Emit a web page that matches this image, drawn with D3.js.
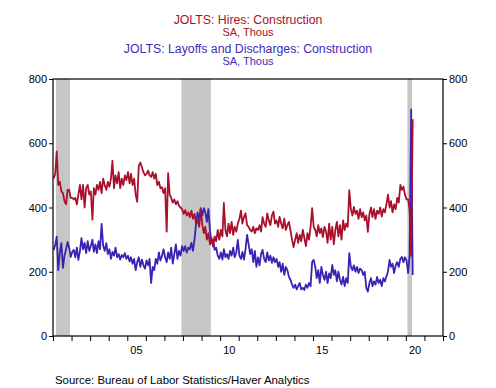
<!DOCTYPE html>
<html>
<head>
<meta charset="utf-8">
<script src="https://cdn.jsdelivr.net/npm/d3@7"></script>
<style>
  html, body { margin: 0; padding: 0; background: #fff; }
  svg { display: block; font-family: Arial, "Liberation Sans", sans-serif; }
</style>
</head>
<body>
<svg id="chart" width="496" height="388"></svg>
<script>
// ---- data (monthly, Jan 2001 .. May 2020, thousands, SA) ----
const startYear = 2001;
const hires = [
  490, 505, 575, 470, 480, 450, 445, 420, 410, 455, 455, 430,
  430, 425, 430, 410, 440, 470, 425, 470, 400, 460, 470, 440,
  450, 362, 460, 440, 470, 455, 480, 445, 490, 470, 455, 480,
  465, 490, 545, 460, 500, 475, 510, 460, 490, 470, 500, 485,
  510, 475, 505, 470, 490, 440, 418, 530, 540, 525, 510, 500,
  505, 515, 500, 495, 510, 490, 505, 470, 480, 460, 463, 445,
  460, 325, 507, 440, 430, 415, 425, 410, 420, 405, 400, 395,
  380, 392, 375, 385, 370, 390, 365, 380, 350, 360, 340, 395,
  345, 320, 340, 300, 320, 285, 305, 278, 310, 295, 330, 300,
  330, 310, 414, 330, 310, 350, 320, 355, 315, 340, 325, 350,
  365, 390, 350, 370, 382, 345, 340, 330, 325, 340, 320, 335,
  330, 345, 325, 370, 350, 340, 382, 360, 345, 375, 387, 350,
  360, 340, 371, 350, 335, 365, 330, 345, 355, 330, 300, 277,
  300, 320, 290, 315, 295, 330, 305, 280, 320, 300, 340, 398,
  340, 330, 310, 345, 320, 335, 308, 340, 325, 290, 350, 300,
  340, 285, 330, 355, 310, 345, 300, 360, 330, 350, 340, 454,
  395, 375, 402, 380, 390, 365, 395, 370, 385, 360, 375, 324,
  380, 400, 370, 395, 365, 390, 380, 400, 372, 395, 385, 410,
  440, 400, 420, 385, 410, 395, 430, 415, 470, 455, 465, 440,
  425, 425, 392, 250, 675
];
const layoffs = [
  268, 285, 309, 205, 260, 289, 212, 250, 270, 293, 275, 246,
  262, 268, 245, 275, 237, 265, 305, 270, 290, 258, 295, 265,
  280, 300, 262, 285, 258, 295, 270, 349, 280, 265, 289, 255,
  270, 240, 262, 250, 275, 245, 255, 238, 252, 245, 258, 240,
  250, 232, 245, 225, 240, 205, 230, 245, 215, 238, 220, 210,
  235, 220, 240, 165, 215, 205, 240, 225, 260, 235, 250, 270,
  245, 230, 260, 240, 275, 225, 255, 285, 240, 265, 250, 280,
  265, 280, 260, 275, 270, 290, 265, 300, 350, 385, 360, 398,
  375, 398, 385, 355, 395, 330, 290, 300, 268, 275, 250, 240,
  260, 238, 270, 245, 255, 240, 265, 250, 275, 245, 260, 299,
  250, 240, 262, 238, 270, 315, 285, 255, 270, 230, 265, 215,
  245, 220, 255, 268, 240, 230, 260, 235, 250, 228, 245, 230,
  240, 215, 230, 200, 225, 190, 215, 205, 184, 175, 160, 150,
  160, 145, 155, 165, 145, 150, 143, 160, 150, 165, 155, 230,
  237, 215, 180, 205, 165, 215, 190, 175, 200, 165, 195, 180,
  221, 190, 205, 170, 200, 175, 160, 184, 155, 180, 165, 258,
  215, 205, 220, 200, 215, 196, 210, 205, 190, 200, 150, 138,
  165, 180, 155, 170, 160, 184, 165, 175, 155, 180, 170, 185,
  200, 237, 215, 225, 196, 220, 230, 215, 240, 246, 230, 245,
  235, 196, 250, 705, 190
];
const recessions = [
  ["2001-03-01", "2001-12-01"],
  ["2007-12-01", "2009-07-01"],
  ["2020-02-01", "2020-05-01"]
];
const yTicks = [0, 200, 400, 600, 800];
const xLabelYears = [2005, 2010, 2015, 2020];
const xLabels = ["05", "10", "15", "20"];
const titles = [
  { text: "JOLTS: Hires: Construction", size: 12.3, color: "#a8102c" },
  { text: "SA, Thous", size: 11, color: "#a8102c" },
  { text: "JOLTS: Layoffs and Discharges: Construction", size: 12.3, color: "#3d2db8" },
  { text: "SA, Thous", size: 11, color: "#3d2db8" }
];
const source = "Source:  Bureau of Labor Statistics/Haver Analytics";

// ---- layout ----
const L = 53, R = 443, T = 79, B = 336;
const redColor = "#a8102c", blueColor = "#3a22b4";

const svg = d3.select("#chart");
const x = d3.scaleTime()
  .domain([new Date(2001, 0, 1), new Date(2022, 0, 1)])
  .range([L, R]);
const y = d3.scaleLinear().domain([0, 800]).range([B, T]);

const dateOf = i => new Date(startYear + Math.floor(i / 12), i % 12, 15);

// recession shading
svg.append("g").selectAll("rect").data(recessions).join("rect")
  .attr("x", d => x(new Date(d[0])))
  .attr("width", d => x(new Date(d[1])) - x(new Date(d[0])))
  .attr("y", T).attr("height", B - T)
  .attr("fill", "#c6c6c6");

// lines
const line = d3.line().x((d, i) => x(dateOf(i))).y(d => y(d));
svg.append("path").datum(layoffs)
  .attr("d", line).attr("fill", "none")
  .attr("stroke", blueColor).attr("stroke-width", 1.8)
  .attr("stroke-linejoin", "round");
svg.append("path").datum(hires)
  .attr("d", line).attr("fill", "none")
  .attr("stroke", redColor).attr("stroke-width", 1.8)
  .attr("stroke-linejoin", "round");

// frame
svg.append("rect").attr("x", L).attr("y", T)
  .attr("width", R - L).attr("height", B - T)
  .attr("fill", "none").attr("stroke", "#000").attr("stroke-width", 1.2);

// y axes
const leftAxis = d3.axisLeft(y).tickValues(yTicks).tickSize(4).tickPadding(2);
const rightAxis = d3.axisRight(y).tickValues(yTicks).tickSize(4).tickPadding(2);
const gl = svg.append("g").attr("transform", `translate(${L},0)`).call(leftAxis);
const gr = svg.append("g").attr("transform", `translate(${R},0)`).call(rightAxis);
[gl, gr].forEach(g => {
  g.select(".domain").remove();
  g.selectAll("text").attr("font-size", 11).attr("fill", "#000")
    .attr("font-family", "Arial, 'Liberation Sans', sans-serif");
  g.selectAll("line").attr("stroke", "#000");
});

// x axis: year ticks
const yearTicks = d3.range(2001, 2023).map(yr => new Date(yr, 0, 1));
const bx = d3.axisBottom(x).tickValues(yearTicks).tickSize(5).tickFormat("");
const gb = svg.append("g").attr("transform", `translate(0,${B})`).call(bx);
gb.select(".domain").remove();
gb.selectAll("line").attr("stroke", "#000");

svg.append("g").selectAll("text").data(xLabelYears).join("text")
  .attr("x", d => x(new Date(d, 6, 1)))
  .attr("y", 354)
  .attr("text-anchor", "middle")
  .attr("font-size", 11)
  .text((d, i) => xLabels[i]);

// titles
const titleY = [24, 36, 53, 65];
svg.append("g").selectAll("text").data(titles).join("text")
  .attr("x", (L + R) / 2)
  .attr("y", (d, i) => titleY[i])
  .attr("text-anchor", "middle")
  .attr("font-size", d => d.size)
  .attr("fill", d => d.color)
  .text(d => d.text);

// source
svg.append("text").attr("x", 55).attr("y", 384)
  .attr("font-size", 11.4).text(source);
</script>
</body>
</html>
